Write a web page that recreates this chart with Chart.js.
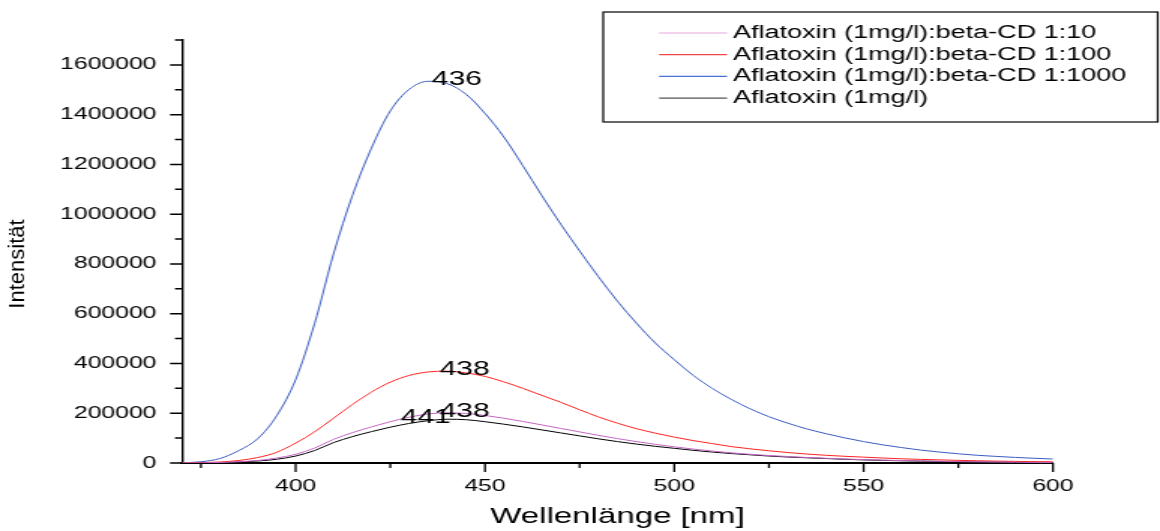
<!DOCTYPE html>
<html>
<head>
<meta charset="utf-8">
<script src="https://cdn.jsdelivr.net/npm/chart.js@4.4.0/dist/chart.umd.min.js"></script>
<style>
  html, body { margin: 0; padding: 0; background: #fff; overflow: hidden; }
  /* the reference is stretched sideways, so draw narrow and widen it */
  #wrap { width: 773px; height: 531px; transform: scaleX(1.5006); transform-origin: 0 0; }
</style>
</head>
<body>
<div id="wrap"><canvas id="chart"></canvas></div>
<script>
const wavelengths = [370, 375, 380, 385, 390, 395, 400, 405, 410, 415, 420, 425, 430, 435, 440, 445, 450,
  455, 460, 465, 470, 475, 480, 485, 490, 495, 500, 505, 510, 515, 520, 525, 530, 535, 540, 545, 550,
  555, 560, 565, 570, 575, 580, 585, 590, 595, 600];

const cd10 = [0, 500, 2000, 5000, 10000, 20000, 35000, 60000, 95000, 122000, 145000, 166000, 184000, 197000,
  202000, 199000, 191000, 180000, 167000, 153000, 139000, 125000, 111000, 98000, 86000, 75000, 65000,
  56000, 48000, 41000, 35000, 30000, 26000, 22000, 19000, 16000, 13500, 11500, 9800, 8200, 6800, 5600,
  4600, 3800, 3100, 2500, 2000];
const cd100 = [0, 1000, 4000, 10000, 22000, 43000, 80000, 125000, 180000, 235000, 285000, 325000, 352000,
  366000, 369000, 362000, 348000, 326000, 300000, 272000, 244000, 214000, 185000, 160000, 138000, 120000,
  104000, 90000, 78000, 66000, 57000, 49000, 42000, 36000, 31000, 27000, 23500, 20000, 17000, 14500,
  12500, 10500, 9000, 7500, 6500, 5500, 5000];
const cd1000 = [1000, 5000, 18000, 50000, 98000, 190000, 335000, 560000, 840000, 1075000, 1265000, 1415000,
  1502000, 1534000, 1525000, 1482000, 1405000, 1310000, 1195000, 1075000, 960000, 852000, 748000, 650000,
  562000, 482000, 415000, 352000, 300000, 256000, 218000, 186000, 160000, 137000, 118000, 101000, 86000,
  73000, 62000, 52000, 44000, 37000, 31000, 26500, 22500, 19000, 16000];
const aflatoxin = [0, 300, 1500, 4000, 8000, 15000, 28000, 50000, 82000, 106000, 126000, 144000, 159000,
  170000, 176000, 174000, 166000, 156000, 145000, 133000, 121000, 109000, 97000, 86000, 76000, 67000,
  59000, 51000, 44000, 38000, 33000, 28000, 24000, 21000, 18000, 15000, 12500, 10500, 9000, 7500, 6200,
  5200, 4300, 3600, 3000, 2500, 2000];

const seriesNames = ['Aflatoxin (1mg/l):beta-CD 1:10', 'Aflatoxin (1mg/l):beta-CD 1:100',
  'Aflatoxin (1mg/l):beta-CD 1:1000', 'Aflatoxin (1mg/l)'];
const lineColors = ['#c466c4', '#ff2222', '#3a5cc0', '#000000'];
const legendColors = ['#e4a8dc', '#f04848', '#4a70d4', '#555555'];

const peakLabels = ['436', '438', '438', '441'];
const peakX = [436, 438, 438, 441];
const peakY = [1537000, 370000, 203000, 177000];
const peakAlign = ['left', 'left', 'left', 'right'];

const xMajor = [400, 450, 500, 550, 600];
const xMinor = [375, 425, 475, 525, 575];
const yMajor = [0, 200000, 400000, 600000, 800000, 1000000, 1200000, 1400000, 1600000];
const yMinor = [100000, 300000, 500000, 700000, 900000, 1100000, 1300000, 1500000, 1700000];

const FONT = "'Liberation Sans', Arial, sans-serif";
const series = [cd10, cd100, cd1000, aflatoxin];

const extras = {
  id: 'extras',
  afterDraw(chart) {
    const { ctx, scales: { x, y }, chartArea } = chart;
    ctx.save();
    ctx.strokeStyle = '#000';
    // tick marks, long for labelled ticks, short for the others
    ctx.lineWidth = 1.3;
    ctx.beginPath();
    xMajor.forEach((v) => {
      const px = x.getPixelForValue(v);
      ctx.moveTo(px, chartArea.bottom);
      ctx.lineTo(px, chartArea.bottom + 9);
    });
    xMinor.forEach((v) => {
      const px = x.getPixelForValue(v);
      ctx.moveTo(px, chartArea.bottom);
      ctx.lineTo(px, chartArea.bottom + 5);
    });
    ctx.stroke();
    ctx.lineWidth = 1.5;
    ctx.beginPath();
    yMajor.forEach((v) => {
      const py = y.getPixelForValue(v);
      ctx.moveTo(chartArea.left, py);
      ctx.lineTo(chartArea.left - 8, py);
    });
    yMinor.forEach((v) => {
      const py = y.getPixelForValue(v);
      ctx.moveTo(chartArea.left, py);
      ctx.lineTo(chartArea.left - 4.7, py);
    });
    ctx.stroke();

    // peak wavelength labels
    ctx.fillStyle = '#000';
    ctx.font = '20px ' + FONT;
    ctx.textBaseline = 'middle';
    peakLabels.forEach((t, i) => {
      ctx.textAlign = peakAlign[i];
      ctx.fillText(t, x.getPixelForValue(peakX[i]), y.getPixelForValue(peakY[i]) - 1);
    });

    // y axis title, narrow like the reference
    ctx.save();
    ctx.translate(12, 264);
    ctx.rotate(-Math.PI / 2);
    ctx.scale(1, 0.68);
    ctx.font = '22px ' + FONT;
    ctx.textAlign = 'center';
    ctx.fillText('Intensität', 0, 0);
    ctx.restore();

    // legend box
    ctx.lineWidth = 1.2;
    ctx.strokeRect(402, 12, 369.5, 110);
    ctx.font = '18px ' + FONT;
    ctx.textAlign = 'left';
    seriesNames.forEach((name, i) => {
      const ry = 33 + i * 21.7;
      ctx.strokeStyle = legendColors[i];
      ctx.lineWidth = 1.2;
      ctx.beginPath();
      ctx.moveTo(439.2, ry);
      ctx.lineTo(484.5, ry);
      ctx.stroke();
      ctx.fillStyle = '#000';
      ctx.fillText(name, 488.5, ry);
    });
    ctx.restore();
  },
};

new Chart(document.getElementById('chart'), {
  type: 'line',
  data: {
    datasets: series.map((vals, i) => ({
      label: seriesNames[i],
      data: wavelengths.map((w, j) => ({ x: w, y: vals[j] })),
      borderColor: lineColors[i],
      backgroundColor: lineColors[i],
      borderWidth: 1,
      pointRadius: 0,
      cubicInterpolationMode: 'monotone',
      fill: false,
    })),
  },
  options: {
    responsive: true,
    maintainAspectRatio: false,
    animation: false,
    layout: { padding: { top: 40, right: 71.3, left: 0, bottom: 0 } },
    plugins: { legend: { display: false }, tooltip: { enabled: false } },
    scales: {
      x: {
        type: 'linear',
        min: 370,
        max: 600,
        afterBuildTicks: (s) => { s.ticks = xMajor.map((v) => ({ value: v })); },
        afterFit: (s) => { s.height = 68; },
        grid: { display: false, drawTicks: false },
        border: { display: true, color: '#000', width: 2 },
        ticks: {
          autoSkip: false,
          maxRotation: 0,
          padding: 14,
          color: '#000',
          font: { family: FONT, size: 16.5 },
          callback: (v) => String(v),
        },
        title: {
          display: true,
          text: 'Wellenlänge [nm]',
          color: '#000',
          font: { family: FONT, size: 22 },
          padding: { top: 0, bottom: 1 },
        },
      },
      y: {
        min: 0,
        max: 1700000,
        afterBuildTicks: (s) => { s.ticks = yMajor.map((v) => ({ value: v })); },
        afterFit: (s) => { s.width = 121.3; },
        grid: { display: false, drawTicks: false },
        border: { display: true, color: '#000', width: 1.4 },
        ticks: {
          padding: 17,
          color: '#000',
          font: { family: FONT, size: 16.5 },
          callback: (v) => String(v),
        },
      },
    },
  },
  plugins: [extras],
});
</script>
</body>
</html>
